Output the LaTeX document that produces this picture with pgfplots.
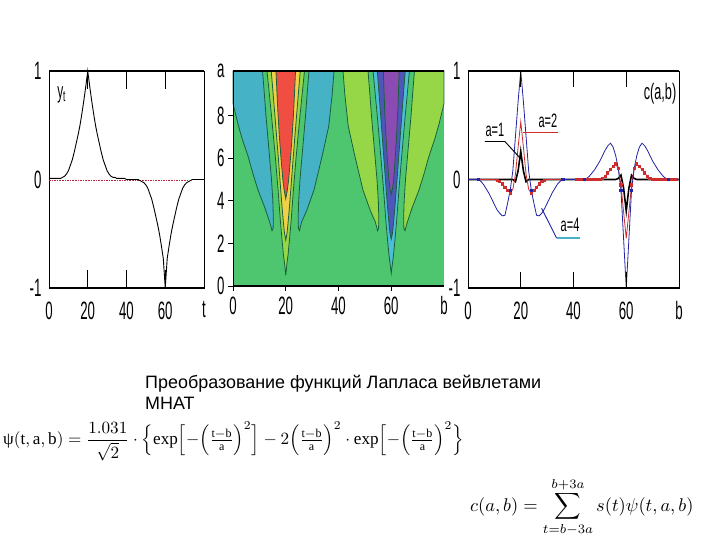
\documentclass[border=0pt]{standalone}
\usepackage{graphicx}
\usepackage{pgfplots}
\pgfplotsset{compat=1.18}
\usepackage{pgfplotstable}
\usepackage{fontspec}
\setmainfont{Liberation Serif}
\newfontfamily\arial{Liberation Sans}
\newcommand\tk[1]{\scalebox{0.95}[1.8]{\arial\fontsize{14}{14}\selectfont #1}}
\newcommand\lb[1]{\scalebox{0.85}[1.5]{\arial\fontsize{13}{13}\selectfont #1}}
\definecolor{cgreen}{RGB}{78,198,112}
\definecolor{cblue}{RGB}{70,178,198}
\definecolor{clgreen}{RGB}{150,215,72}
\definecolor{cyellow}{RGB}{240,208,72}
\definecolor{cred}{RGB}{240,78,66}
\definecolor{ccyan}{RGB}{78,190,214}
\definecolor{cindigo}{RGB}{78,86,186}
\definecolor{cpurple}{RGB}{138,76,178}
\definecolor{cline}{RGB}{25,95,60}
\definecolor{sred}{RGB}{205,45,45}
\definecolor{sblue}{RGB}{35,35,165}
\definecolor{dred}{RGB}{185,40,60}

% signal y_t
\pgfplotstableread{
t y
0 0.01
1 0.01
2 0.01
3 0.01
4 0.01
5 0.01
6 0.01
7 0.02
8 0.03
9 0.05
10 0.08
11 0.13
12 0.18
13 0.25
14 0.33
15 0.41
16 0.50
17 0.61
18 0.73
19 0.86
20 1.0
21 0.86
22 0.73
23 0.61
24 0.50
25 0.41
26 0.33
27 0.25
28 0.18
29 0.13
30 0.08
31 0.05
32 0.03
33 0.02
34 0.02
35 0.01
39 0.01
40 0
46 0
47 -0.01
48 -0.02
49 -0.03
50 -0.05
51 -0.08
52 -0.13
53 -0.18
54 -0.25
55 -0.33
56 -0.41
57 -0.50
58 -0.61
59 -0.73
60 -1.0
61 -0.73
62 -0.61
63 -0.50
64 -0.41
65 -0.33
66 -0.25
67 -0.18
68 -0.13
69 -0.08
70 -0.05
71 -0.03
72 -0.02
73 -0.01
74 0
80 0
}\sig

% c(a,b) for a=1,2,4
\pgfplotstableread{
b k1 k2 k4
0 0 0 0
1 0 0 0
2 0 0 0
3 0 0 0
4 0 0 0
5 0 0 -0.02
6 0 0 -0.05
7 0 0 -0.09
8 0 0 -0.13
9 0 0 -0.18
10 0 0 -0.23
11 0 -0.005 -0.28
12 0 -0.02 -0.31
13 0 -0.04 -0.335
14 0 -0.07 -0.33
15 0 -0.10 -0.22
16 0 -0.125 -0.10
17 0 -0.09 0.08
18 -0.02 0.05 0.40
19 0.08 0.30 0.72
20 0.26 0.53 1.0
21 0.08 0.30 0.72
22 -0.02 0.05 0.40
23 0 -0.09 0.08
24 0 -0.125 -0.10
25 0 -0.10 -0.22
26 0 -0.07 -0.33
27 0 -0.04 -0.335
28 0 -0.02 -0.31
29 0 -0.005 -0.27
30 0 0 -0.22
31 0 0 -0.17
32 0 0 -0.12
33 0 0 -0.08
34 0 0 -0.04
35 0 0 -0.015
36 0 0 0
37 0 0 0
38 0 0 0
39 0 0 0
40 0 0 0
41 0 0 0
42 0 0 0
43 0 0 0
44 0 0 0
45 0 0 0.01
46 0 0 0.03
47 0 0 0.06
48 0 0 0.09
49 0 0 0.13
50 0 0 0.17
51 0 0.01 0.22
52 0 0.03 0.27
53 0 0.06 0.31
54 0 0.09 0.335
55 0 0.12 0.30
56 0 0.143 0.22
57 0.01 0.10 0.10
58 0.04 -0.05 -0.10
59 -0.08 -0.30 -0.55
60 -0.29 -0.543 -1.0
61 -0.08 -0.30 -0.55
62 0.04 -0.05 -0.10
63 0.01 0.10 0.10
64 0 0.143 0.22
65 0 0.12 0.30
66 0 0.09 0.335
67 0 0.06 0.31
68 0 0.03 0.27
69 0 0.01 0.22
70 0 0 0.17
71 0 0 0.13
72 0 0 0.09
73 0 0 0.06
74 0 0 0.03
75 0 0 0.01
76 0 0 0
77 0 0 0
78 0 0 0
79 0 0 0
80 0 0 0
}\cab

\pgfplotsset{
  lineframe/.style={
    scale only axis, clip=false,
    xmin=0, xmax=80, ymin=-1, ymax=1,
    axis line style={line width=0.8bp},
    xtick={0,20,40,60,80},
    ytick={-1,0,1},
    yticklabels={\tk{-1},\tk{0},\tk{1}},
    major tick length=0pt,
    xticklabel style={yshift=-10bp},
    yticklabel style={xshift=-4bp},
  },
  cp/.style={draw=cline, line width=0.8bp},
  fr/.style={black, line width=2.2bp, forget plot, mark=none},
  tc/.style={black, line width=1.2bp, forget plot, mark=none},
}

\begin{document}
\begin{tikzpicture}
\fill[white] (0bp,0bp) rectangle (720bp,540bp);

% ---------- panel 1 ----------
\begin{axis}[lineframe, at={(49bp,252bp)}, anchor=south west, width=155bp, height=217bp,
  xticklabels={\tk{0},\tk{20},\tk{40},\tk{60},\tk{t}}]
\addplot[dred, densely dotted, line width=1.6bp] coordinates {(0,-0.008) (72,-0.008)};
\addplot[black, line width=0.9bp] table[x=t, y=y] {\sig};
\addplot[fr] coordinates {(0,-1) (80,-1)};
\addplot[fr] coordinates {(0,1) (80,1)};
\addplot[tc] coordinates {(20,-1) (20,-0.83)};
\addplot[tc] coordinates {(40,-1) (40,-0.83)};
\addplot[tc] coordinates {(60,-1) (60,-0.83)};
\addplot[tc] coordinates {(20,1) (20,0.83)};
\addplot[tc] coordinates {(40,1) (40,0.83)};
\addplot[tc] coordinates {(60,1) (60,0.83)};
\node at (axis cs:6.5,0.78) {\scalebox{0.85}[1.6]{\arial\fontsize{14}{14}\selectfont y\textsubscript{t}}};
\end{axis}

% ---------- panel 2 ----------
\begin{axis}[scale only axis, clip=false, at={(233bp,254bp)}, anchor=south west, width=211bp, height=215bp,
  xmin=0, xmax=80, ymin=0, ymax=10.1,
  axis background/.style={fill=cgreen},
  axis line style={draw=none},
  xtick={0,20,40,60,80}, xticklabels={\tk{0},\tk{20},\tk{40},\tk{60},\tk{b}},
  ytick={0,2,4,6,8,10.1}, yticklabels={\tk{0},\tk{2},\tk{4},\tk{6},\tk{8},\tk{a}},
  major tick length=0pt,
  xticklabel style={yshift=-7bp},
  yticklabel style={xshift=-5bp},
]
% lobes around t=20 (negative side lobes)
\addplot[cp, fill=cblue] coordinates {(0,10.1) (11.2,10.1) (11.9,9) (12.5,8) (13.2,7) (13.9,6) (14.6,5) (15.1,4) (15.3,3.2) (15.2,2.7) (14.8,2.6) (13.9,3) (12,3.7) (9.5,4.5) (7.5,5.3) (5.7,6.1) (3.5,6.9) (1.9,7.6) (0,8.57)} --cycle;
\addplot[cp, fill=cblue] coordinates {(28.8,10.1) (38.3,10.1) (37.6,9) (36.3,7.5) (33.6,6) (30.7,4.5) (27.8,3.5) (26,3) (25.2,2.6) (24.8,2.7) (24.7,3.2) (24.9,4) (25.4,5) (26.1,6) (26.8,7) (27.5,8) (28.1,9)} --cycle;
% centre around t=20
\addplot[cp, fill=clgreen] coordinates {(12.9,10.1) (14.6,8) (16.1,6) (17.1,4.5) (18,3) (18.6,2.16) (19.1,1.5) (19.6,1) (20,0.5) (20.4,1) (20.9,1.5) (21.4,2.16) (22,3) (22.9,4.5) (23.9,6) (25.4,8) (27.1,10.1)} --cycle;
\addplot[cp, fill=cyellow] coordinates {(14.5,10.1) (15.9,8) (17.2,6) (18.1,4.5) (18.6,3.7) (19.1,3) (19.5,2.5) (20,2.16) (20.5,2.5) (20.9,3) (21.4,3.7) (21.9,4.5) (22.8,6) (24.1,8) (25.5,10.1)} --cycle;
\addplot[cp, fill=cred] coordinates {(16.3,10.1) (16.7,9) (17.1,8) (17.6,7) (18.2,6) (18.9,5) (19.4,4.5) (20,4.1) (20.6,4.5) (21.1,5) (21.8,6) (22.4,7) (22.9,8) (23.3,9) (23.7,10.1)} --cycle;
% lobes around t=60 (positive side lobes)
\addplot[cp, fill=clgreen] coordinates {(41.7,10.1) (51.2,10.1) (51.9,9) (52.5,8) (53.2,7) (53.9,6) (54.6,5) (55.1,4) (55.3,3.2) (55.2,2.7) (54.8,2.6) (54,3) (52.2,3.5) (49.3,4.5) (46.4,6) (43.7,7.5) (42.4,9)} --cycle;
\addplot[cp, fill=clgreen] coordinates {(68.8,10.1) (80,10.1) (80,8.57) (78.1,7.6) (76.5,6.9) (74.3,6.1) (72.5,5.3) (70.5,4.5) (68,3.7) (66.1,3) (65.2,2.6) (64.8,2.7) (64.7,3.2) (64.9,4) (65.4,5) (66.1,6) (66.8,7) (67.5,8) (68.1,9)} --cycle;
% centre around t=60
\addplot[cp, fill=ccyan] coordinates {(53.1,10.1) (54.7,8) (56.1,6) (57.1,4.5) (58,3) (58.6,2.16) (59.1,1.5) (59.6,1) (60,0.6) (60.4,1) (60.9,1.5) (61.4,2.16) (62,3) (62.9,4.5) (63.9,6) (65.3,8) (66.9,10.1)} --cycle;
\addplot[cp, fill=cindigo] coordinates {(54.7,10.1) (56,8) (57.2,6) (58.1,4.5) (58.6,3.7) (59.1,3) (59.5,2.5) (60,2.2) (60.5,2.5) (60.9,3) (61.4,3.7) (61.9,4.5) (62.8,6) (64,8) (65.3,10.1)} --cycle;
\addplot[cp, fill=cpurple] coordinates {(57,10.1) (57.3,9) (57.6,8) (58,7) (58.5,6) (59.1,5) (59.5,4.6) (60,4.3) (60.5,4.6) (60.9,5) (61.5,6) (62,7) (62.4,8) (62.7,9) (63,10.1)} --cycle;
% frame and small outer ticks
\addplot[fr] coordinates {(0,0) (80,0)};
\addplot[fr] coordinates {(0,10.1) (80,10.1)};
\addplot[tc, line width=0.9bp] coordinates {(0,0) (0,10.1)};
\addplot[tc, line width=0.9bp] coordinates {(0,0) (0,-0.25)};
\addplot[tc, line width=0.9bp] coordinates {(20,0) (20,-0.25)};
\addplot[tc, line width=0.9bp] coordinates {(40,0) (40,-0.25)};
\addplot[tc, line width=0.9bp] coordinates {(60,0) (60,-0.25)};
\addplot[tc, line width=0.9bp] coordinates {(0,2) (-1.8,2)};
\addplot[tc, line width=0.9bp] coordinates {(0,4) (-1.8,4)};
\addplot[tc, line width=0.9bp] coordinates {(0,6) (-1.8,6)};
\addplot[tc, line width=0.9bp] coordinates {(0,8) (-1.8,8)};
\addplot[tc, line width=0.9bp] coordinates {(0,0) (-1.8,0)};
\end{axis}

% ---------- panel 3 ----------
\begin{axis}[lineframe, at={(468bp,252bp)}, anchor=south west, width=211bp, height=217bp,
  xticklabels={\tk{0},\tk{20},\tk{40},\tk{60},\tk{b}}]
\addplot[black, line width=1.6bp] table[x=b, y=k1] {\cab};
\addplot[sred, line width=0.8bp, mark=square*, mark size=1.1bp,
  mark indices={12,13,14,15,16,17,25,26,27,28,29,30,42,43,44,45,46,47,48,49,50,51,52,53,54,55,56,57,58,59,63,64,65,66,67,68,69,70,71,72,73,74,75,76,77,78,79,80}]
  table[x=b, y=k2] {\cab};
\addplot[sblue, line width=0.8bp, mark=square*, mark size=1.1bp, mark indices={5,17,25,37,45,59,63,77}]
  table[x=b, y=k4] {\cab};
\addplot[fr] coordinates {(0,-1) (80,-1)};
\addplot[fr] coordinates {(0,1) (80,1)};
\addplot[tc] coordinates {(20,-1) (20,-0.85)};
\addplot[tc] coordinates {(40,-1) (40,-0.85)};
\addplot[tc] coordinates {(60,-1) (60,-0.85)};
\addplot[tc] coordinates {(20,1) (20,0.85)};
\addplot[tc] coordinates {(40,1) (40,0.85)};
\addplot[tc] coordinates {(60,1) (60,0.85)};
\node at (axis cs:72.8,0.79) {\scalebox{0.85}[1.5]{\arial\fontsize{15}{15}\selectfont c(a,b)}};
\node at (axis cs:10.2,0.46) {\lb{a=1}};
\draw[black, line width=0.9bp] (axis cs:6.4,0.35) -- (axis cs:14.0,0.35) -- (axis cs:20.4,0.18);
\node at (axis cs:30.3,0.54) {\lb{a=2}};
\draw[sred, line width=1.2bp] (axis cs:20.9,0.435) -- (axis cs:34.1,0.435);
\node at (axis cs:38.7,-0.42) {\lb{a=4}};
\draw[sblue, line width=0.9bp] (axis cs:27.9,-0.265) -- (axis cs:33.6,-0.54);
\draw[cblue, line width=1.2bp] (axis cs:33.6,-0.54) -- (axis cs:42.5,-0.54);
\end{axis}

% ---------- texts ----------
\node[anchor=north west, align=left, inner sep=0, font=\arial\fontsize{18}{21}\selectfont]
  at (145bp,165bp) {Преобразование функций Лапласа вейвлетами\\МНАТ};
\node[anchor=west, inner sep=0] at (3bp,99bp)
  {\scalebox{1.72}{$\mbox{ψ}(\mathrm{t,a,b}) = {\displaystyle\frac{1.031}{\sqrt{2}}}\cdot\Bigl\{\exp\Bigl[-\Bigl(\frac{\mathrm{t-b}}{\mathrm{a}}\Bigr)^{2}\Bigr] - 2\Bigl(\frac{\mathrm{t-b}}{\mathrm{a}}\Bigr)^{2}\cdot\exp\Bigl[-\Bigl(\frac{\mathrm{t-b}}{\mathrm{a}}\Bigr)^{2}\Bigr\}$}};
\node[anchor=west, inner sep=0] at (470bp,33bp)
  {\scalebox{1.85}{$\displaystyle c(a,b) = \sum_{t=b-3a}^{b+3a} s(t)\psi(t,a,b)$}};

\pgfresetboundingbox
\path (0bp,0bp) rectangle (720bp,540bp);
\end{tikzpicture}
\end{document}
